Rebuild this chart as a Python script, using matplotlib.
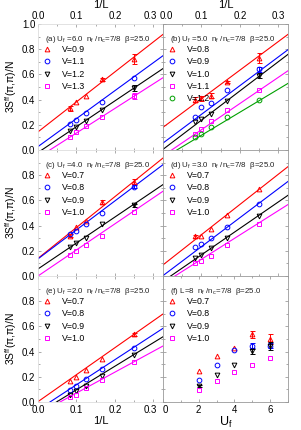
import matplotlib
matplotlib.use("Agg")
import matplotlib.pyplot as plt
import matplotlib.transforms as mtrans
import numpy as np

plt.rcParams['font.family'] = ['Liberation Sans', 'DejaVu Sans']

invL = [1/12, 1/10, 1/8, 1/6, 1/4]

# Panel (a) U_f=6.0
a_labels = ["V=0.9", "V=1.1", "V=1.2", "V=1.3"]
a_y = [[0.33, 0.38, 0.43, 0.56, 0.72],
       [0.21, 0.24, 0.29, 0.38, 0.57],
       [0.15, 0.18, 0.23, 0.32, 0.49],
       [0.104, 0.14, 0.19, 0.26, 0.43]]
a_err = [[0.02, 0.0, 0.0, 0.015, 0.04],
         [0.0, 0.0, 0.0, 0.0, 0.0],
         [0.0, 0.0, 0.0, 0.0, 0.025],
         [0.0, 0.0, 0.0, 0.0, 0.025]]
a_icpt = [0.144, 0.027, -0.02, -0.06]
a_slope = [2.38, 2.22, 2.05, 1.95]

# Panel (b) U_f=5.0
b_labels = ["V=0.8", "V=0.9", "V=1.0", "V=1.1", "V=1.2"]
b_y = [[0.40, 0.41, 0.43, 0.54, 0.73],
       [0.26, 0.34, 0.37, 0.48, 0.64],
       [0.22, 0.245, 0.285, 0.39, 0.59],
       [0.13, 0.17, 0.23, 0.32, 0.48],
       [0.10, 0.125, 0.18, 0.26, 0.40]]
b_err = [[0.02, 0.02, 0.02, 0.01, 0.04],
         [0.0, 0.0, 0.0, 0.0, 0.02],
         [0.0, 0.0, 0.0, 0.0, 0.02],
         [0.0, 0.0, 0.0, 0.0, 0.0],
         [0.0, 0.0, 0.0, 0.0, 0.0]]
b_icpt = [0.18, 0.055, 0.005, -0.047, -0.066]
b_slope = [2.27, 2.28, 2.32, 2.08, 1.83]

# Panel (c) U_f=4.0
c_labels = ["V=0.7", "V=0.8", "V=0.9", "V=1.0"]
c_y = [[0.32, 0.39, 0.44, 0.59, 0.75],
       [0.336, 0.36, 0.416, 0.50, 0.71],
       [0.23, 0.264, 0.304, 0.416, 0.56],
       [0.168, 0.195, 0.248, 0.317, 0.51]]
c_err = [[0.01, 0.0, 0.0, 0.015, 0.02],
         [0.0, 0.0, 0.0, 0.0, 0.015],
         [0.0, 0.0, 0.0, 0.0, 0.01],
         [0.0, 0.0, 0.0, 0.0, 0.0]]
c_icpt = [0.14, 0.136, 0.056, 0.0]
c_slope = [2.45, 2.3, 2.06, 2.07]

# Panel (d) U_f=3.0
d_labels = ["V=0.7", "V=0.8", "V=0.9", "V=1.0"]
d_y = [[0.317, 0.32, 0.376, 0.488, 0.69],
       [0.227, 0.254, 0.304, 0.387, 0.568],
       [0.141, 0.168, 0.221, 0.30, 0.48],
       [0.101, 0.12, 0.16, 0.248, 0.41]]
d_err = [[0.012, 0.0, 0.0, 0.0, 0.0],
         [0.0, 0.0, 0.0, 0.0, 0.0],
         [0.0, 0.0, 0.0, 0.0, 0.0],
         [0.0, 0.0, 0.0, 0.0, 0.0]]
d_icpt = [0.088, 0.003, -0.042, -0.06]
d_slope = [2.4, 2.3, 2.1, 1.93]

# Panel (e) U_f=2.0
e_labels = ["V=0.7", "V=0.8", "V=0.9", "V=1.0"]
e_y = [[0.163, 0.197, 0.256, 0.344, 0.536],
       [0.096, 0.128, 0.181, 0.26, 0.43],
       [0.056, 0.088, 0.128, 0.208, 0.376],
       [0.037, 0.056, 0.109, 0.176, 0.32]]
e_err = [[0.0, 0.0, 0.0, 0.0, 0.01],
         [0.0, 0.0, 0.0, 0.0, 0.0],
         [0.0, 0.0, 0.0, 0.0, 0.0],
         [0.0, 0.0, 0.0, 0.0, 0.0]]
e_icpt = [0.003, -0.062, -0.09, -0.095]
e_slope = [2.14, 1.99, 1.87, 1.66]

# Panel (f) L=8
f_labels = ["V=0.7", "V=0.8", "V=0.9", "V=1.0"]
f_x = [2, 3, 4, 5, 6]
f_y = [[0.25, 0.368, 0.43, 0.536, 0.50],
       [0.176, 0.296, 0.41, 0.448, 0.448],
       [0.128, 0.216, 0.296, 0.403, 0.443],
       [0.096, 0.163, 0.235, 0.296, 0.35]]
f_err = [[0.0, 0.0, 0.0, 0.03, 0.04],
         [0.0, 0.0, 0.0, 0.02, 0.02],
         [0.01, 0.0, 0.0, 0.02, 0.03],
         [0.0, 0.0, 0.0, 0.0, 0.0]]

colors = ['#ff0000', '#0000ff', '#000000', '#ff00ff', '#00a000']
markers = ['^', 'o', 'v', 's', 'o']

fig = plt.figure(figsize=(3.01, 4.30), dpi=100)
gs = fig.add_gridspec(3, 2, left=38/301, right=288/301, bottom=1-402/430,
                      top=1-24/430, hspace=0, wspace=0)

sub = "$_\\mathregular{%s}$"
titles = ["(a) U" + sub % "f" + " =6.0  n" + sub % "f" + " /n" + sub % "c" + "=7/8  β=25.0",
          "(b) U" + sub % "f" + " =5.0  n" + sub % "f" + " /n" + sub % "c" + "=7/8  β=25.0",
          "(c) U" + sub % "f" + " =4.0  n" + sub % "f" + " /n" + sub % "c" + "=7/8  β=25.0",
          "(d) U" + sub % "f" + " =3.0  n" + sub % "f" + " /n" + sub % "c" + "=7/8  β=25.0",
          "(e) U" + sub % "f" + " =2.0  n" + sub % "f" + " /n" + sub % "c" + "=7/8  β=25.0",
          "(f) L=8  n" + sub % "f" + " /n" + sub % "c" + "=7/8  β=25.0"]

panels = [(a_labels, a_y, a_err, a_icpt, a_slope),
          (b_labels, b_y, b_err, b_icpt, b_slope),
          (c_labels, c_y, c_err, c_icpt, c_slope),
          (d_labels, d_y, d_err, d_icpt, d_slope),
          (e_labels, e_y, e_err, e_icpt, e_slope),
          (f_labels, f_y, f_err, None, None)]

ylabel = "3S$^{\\mathregular{ff}}$(π,π)/N"
xfit = np.array([0.0, 0.33])


def nudge(label, dx_px):
    label.set_transform(label.get_transform() +
                        mtrans.ScaledTranslation(dx_px / 100.0, 0, fig.dpi_scale_trans))


axes = []
for i, (labels, ys, errs, icpt, slope) in enumerate(panels):
    r, c = divmod(i, 2)
    ax = fig.add_subplot(gs[r, c])
    axes.append(ax)
    xs = f_x if i == 5 else invL
    for k, lab in enumerate(labels):
        col = colors[k]
        ax.plot(xs, ys[k], linestyle='none', marker=markers[k], mfc='none',
                mec=col, ms=3.4, mew=0.7, label=lab, zorder=3)
        for xv, yv, ev in zip(xs, ys[k], errs[k]):
            if ev > 0:
                ax.errorbar([xv], [yv], yerr=[ev], fmt='none', ecolor=col,
                            elinewidth=0.7, capsize=1.8, capthick=0.7, zorder=3)
        if icpt is not None:
            ax.plot(xfit, icpt[k] + slope[k] * xfit, color=col, lw=0.8, zorder=2)
    ax.set_ylim(0, 1.0)
    if i == 5:
        ax.set_xlim(0, 7)
        ax.set_xticks([0, 2, 4, 6])
        ax.set_xticks([1, 3, 5, 7], minor=True)
    else:
        ax.set_xlim(0, 0.325)
        ax.set_xticks([0.0, 0.1, 0.2, 0.3])
        ax.set_xticks([0.05, 0.15, 0.25], minor=True)
    ax.set_yticks([0, 0.2, 0.4, 0.6, 0.8, 1.0])
    ax.set_yticks(np.arange(0.1, 1.0, 0.2), minor=True)
    ax.tick_params(which='both', direction='in', top=True, right=True,
                   color='#888888', labelsize=7, pad=2)
    ax.tick_params(which='major', length=2.5, width=0.5)
    ax.tick_params(which='minor', length=1.5, width=0.5)
    if c == 0:
        if r == 0:
            ax.set_yticklabels(['0.0', '0.2', '0.4', '0.6', '0.8', '1.0'])
        else:
            ax.set_yticklabels(['0.0', '0.2', '0.4', '0.6', '0.8', ''])
        ax.set_ylabel(ylabel, fontsize=7.5, labelpad=2)
    else:
        ax.set_yticklabels([])
    if r == 0:
        ax.tick_params(labeltop=True, labelbottom=False)
        ax.xaxis.set_label_position('top')
        ax.set_xlabel("1/L", fontsize=8, labelpad=2)
    elif r == 2:
        if c == 0:
            ax.set_xlabel("1/L", fontsize=8, labelpad=1)
        else:
            ax.set_xlabel("U$_\\mathregular{f}$", fontsize=9, labelpad=0)
    else:
        ax.tick_params(labelbottom=False)
    spcol = '#dddddd' if c == 0 else '#999999'
    for s in ax.spines.values():
        s.set_color(spcol)
        s.set_linewidth(0.6)
    ax.text(0.055, 0.92, titles[i], transform=ax.transAxes, fontsize=5.7,
            va='top', ha='left', color='#222222')
    ax.legend(loc='upper left', bbox_to_anchor=(0.03, 0.84), frameon=False,
              fontsize=6.3, handlelength=1.0, handletextpad=1.2,
              labelspacing=0.38, borderpad=0.1, borderaxespad=0)

# keep adjoining tick labels at the column boundary from colliding
nudge(axes[0].xaxis.get_major_ticks()[3].label2, -3)
nudge(axes[1].xaxis.get_major_ticks()[0].label2, 3)
nudge(axes[4].xaxis.get_major_ticks()[3].label1, -3)
nudge(axes[5].xaxis.get_major_ticks()[0].label1, 2)

fig.savefig("out.png", dpi=100)
